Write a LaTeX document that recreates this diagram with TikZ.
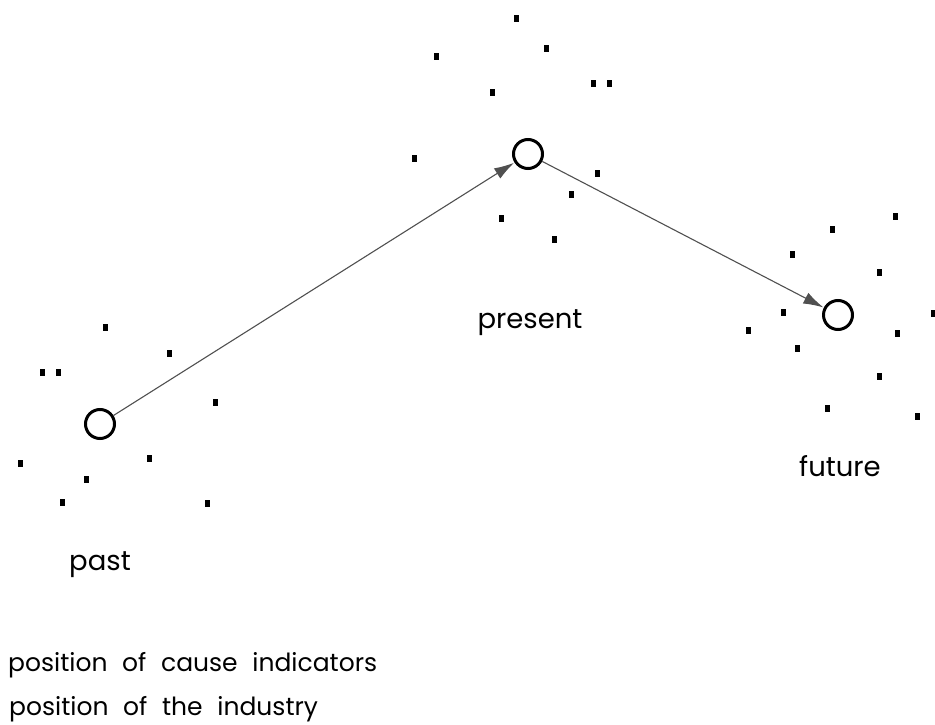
\documentclass[tikz,border=0pt]{standalone}
\usepackage{fontspec}
\setmainfont{Poppins}
\newfontfamily\legfont[WordSpace=2.2]{Poppins}
\usetikzlibrary{arrows.meta,positioning}
\definecolor{linea}{HTML}{505050}

\begin{document}
\begin{tikzpicture}[x=1pt,y=-1pt,
    spot/.style={circle,draw=black,line width=3pt,minimum size=29pt,inner sep=0pt},
    move/.style={draw=linea,line width=1.1pt,-{Latex[length=20pt,width=12pt]},shorten >=0.5pt},
    lab/.style={font=\fontsize{27.5}{30}\selectfont,inner sep=0pt,anchor=base},
    leg/.style={font=\legfont\fontsize{25}{30}\selectfont,inner sep=0pt,anchor=base west}]
  \useasboundingbox (0,0) rectangle (935,725);
  % positions of the industry
  \node[spot] (past) at (100,424) {};
  \node[spot] (present) at (528,154) {};
  \node[spot] (future) at (838,315) {};
  \draw[move] (past) -- (present);
  \draw[move] (present) -- (future);
  % cause indicators
  \foreach \x/\y in {516/19,546/49,436/57,593/84,609/84,492/93,414/158,597/173,571/194,501/218,554/239,
                     895/216,832/229,792/254,879/272,783/312,748/330,933/313,897/333,797/348,879/376,827/408,917/416,
                     105/327,169/353,42/372,58/372,215/402,20/463,149/458,86/479,62/502,207/503}
    \fill (\x-2.5,\y-3.5) rectangle (\x+2.5,\y+3.5);
  % labels
  \node[lab] (presentlab) at (530,328) {present};
  \node[lab] (futurelab) at (840,476) {future};
  \node[lab] (pastlab) at (100,570) {past};
  \node[leg] (cause) at (8,671) {position of cause indicators};
  \node[leg] (industry) at (9,715) {position of the industry};
\end{tikzpicture}
\end{document}
